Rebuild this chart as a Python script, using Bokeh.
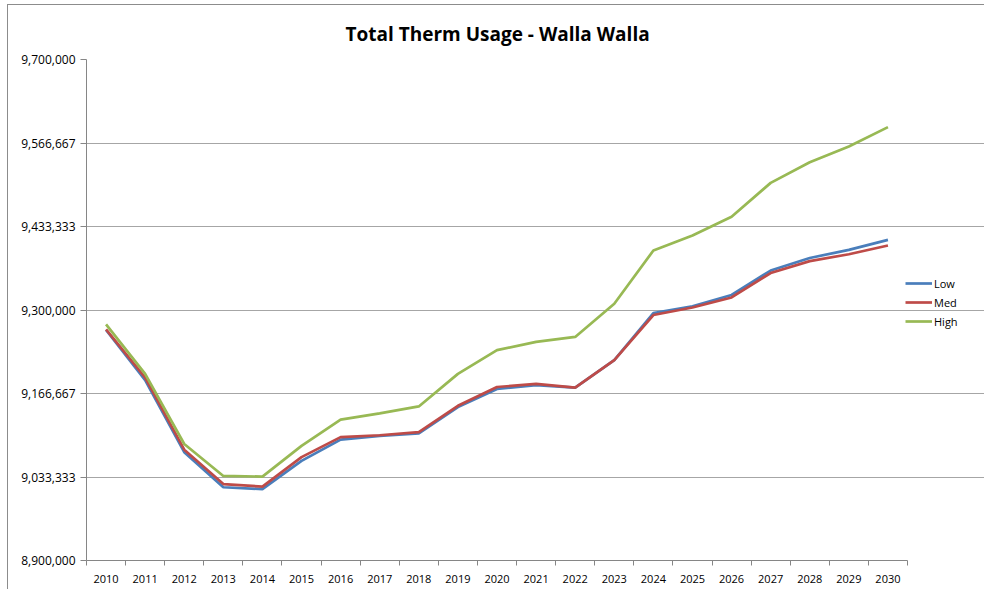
from bokeh.plotting import figure
from bokeh.models import FixedTicker, NumeralTickFormatter, Legend, LegendItem
from bokeh.embed import file_html
from bokeh.resources import INLINE

# ---- data ----
years = [2010, 2011, 2012, 2013, 2014, 2015, 2016, 2017, 2018, 2019, 2020,
         2021, 2022, 2023, 2024, 2025, 2026, 2027, 2028, 2029, 2030]
low = [9268000, 9188000, 9073000, 9017000, 9014000, 9059000, 9093000, 9099000,
       9103000, 9145000, 9174000, 9180000, 9176000, 9220000, 9295000, 9306000,
       9324000, 9363000, 9383000, 9396000, 9412000]
med = [9269000, 9192000, 9077000, 9022000, 9018000, 9065000, 9097000, 9100000,
       9105000, 9147000, 9177000, 9182000, 9176000, 9220000, 9292000, 9304000,
       9320000, 9359000, 9378000, 9389000, 9403000]
high = [9277000, 9198000, 9086000, 9035000, 9034000, 9083000, 9125000, 9135000,
        9146000, 9198000, 9236000, 9249000, 9257000, 9310000, 9395000, 9419000,
        9449000, 9503000, 9536000, 9561000, 9592000]
y_ticks = [8900000, 9033333.33, 9166666.67, 9300000, 9433333.33, 9566666.67, 9700000]
series_names = ["Low", "Med", "High"]
colors = ["#4A7EBB", "#BE4B48", "#98B954"]

FONT = "Open Sans"

# layout (pixels)
W, H = 977, 585
LEFT, TOP, BOTTOM = 78, 53, 30
AXIS_PX = 821          # width of the category axis in pixels
frame_px = W - LEFT
x0 = years[0] - 0.5
x1 = years[-1] + 0.5
x_end = x0 + (x1 - x0) * frame_px / AXIS_PX   # extra room on the right for the legend

p = figure(width=W, height=H, output_backend="svg", toolbar_location=None,
           x_range=(x0, x_end),
           y_range=(y_ticks[0], y_ticks[-1]),
           min_border_left=LEFT, min_border_right=0, min_border_top=TOP,
           min_border_bottom=BOTTOM,
           title="Total Therm Usage - Walla Walla")
p.styles = {"margin-left": "7px", "margin-top": "4px",
            "border-left": "1px solid #8c8c8c", "border-top": "1px solid #8c8c8c"}

p.title.align = "left"
p.title.offset = 259
p.title.text_font = FONT
p.title.text_font_size = "19px"
p.title.text_font_style = "bold"
p.title.text_color = "#000000"
p.title.standoff = 26

p.outline_line_color = None
p.background_fill_color = "white"
p.border_fill_color = "white"

# x axis: labels at years, ticks at category boundaries
p.xaxis.ticker = FixedTicker(ticks=years,
                             minor_ticks=[y - 0.5 for y in years] + [x1])
p.xaxis.bounds = (x0, x1)
p.xaxis.major_tick_line_color = None
p.xaxis.minor_tick_out = 5
p.xaxis.minor_tick_in = 0
p.xaxis.minor_tick_line_color = "#868686"
p.xaxis.axis_line_color = "#868686"
p.xaxis.major_label_text_font = FONT
p.xaxis.major_label_text_font_size = "11px"
p.xaxis.major_label_text_color = "#000000"
p.xaxis.major_label_standoff = 8

p.yaxis.ticker = FixedTicker(ticks=y_ticks, minor_ticks=[])
p.yaxis.formatter = NumeralTickFormatter(format="0,0")
p.yaxis.major_tick_out = 6
p.yaxis.major_tick_in = 0
p.yaxis.major_tick_line_color = "#868686"
p.yaxis.axis_line_color = "#868686"
p.yaxis.major_label_text_font = FONT
p.yaxis.major_label_text_font_size = "12px"
p.yaxis.major_label_text_color = "#000000"
p.yaxis.major_label_standoff = 5

p.xgrid.grid_line_color = None
p.ygrid.grid_line_color = "#a6a6a6"
p.ygrid.grid_line_width = 1
p.ygrid.bounds = (x0, x1)

items = []
for name, vals, c in zip(series_names, [low, med, high], colors):
    r = p.line(years, vals, line_color=c, line_width=2.7)
    items.append(LegendItem(label=name, renderers=[r]))

legend = Legend(items=items, location=(819, 231), orientation="vertical",
                border_line_color=None, background_fill_alpha=0,
                padding=0, margin=0, spacing=3,
                glyph_width=27, glyph_height=16, label_height=16,
                label_standoff=2,
                label_text_font=FONT, label_text_font_size="11px",
                label_text_color="#000000")
p.add_layout(legend, "center")

open("out.html", "w").write(file_html(p, INLINE))
